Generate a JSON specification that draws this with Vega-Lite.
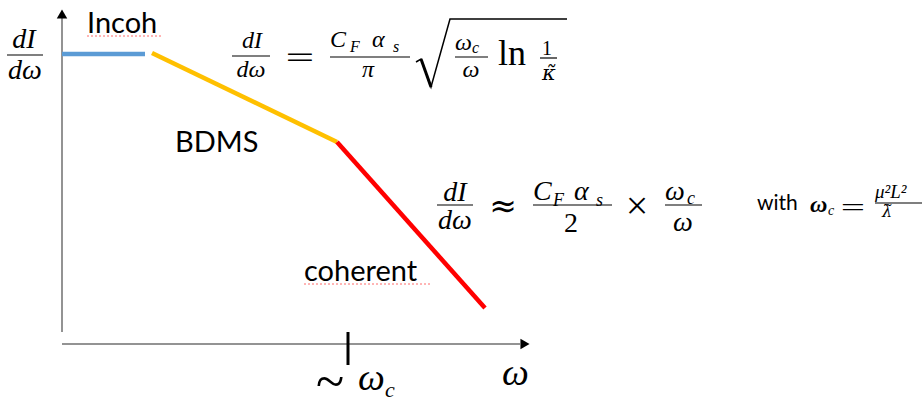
{
  "$schema": "https://vega.github.io/schema/vega-lite/v6.json",
  "width": 922,
  "height": 402,
  "autosize": "none",
  "padding": 0,
  "background": "white",
  "config": {"view": {"stroke": null}},
  "datasets": {
    "segments": [
      {"regime": "Incoh", "pt": 0, "x": 0, "y": 290},
      {"regime": "Incoh", "pt": 1, "x": 83, "y": 290},
      {"regime": "BDMS", "pt": 0, "x": 90, "y": 291},
      {"regime": "BDMS", "pt": 1, "x": 275, "y": 202},
      {"regime": "coherent", "pt": 0, "x": 275, "y": 202},
      {"regime": "coherent", "pt": 1, "x": 423, "y": 36}
    ],
    "axes": [
      {"axis": "dI/dω", "x": 0, "y": 12, "x2": 0, "y2": 326},
      {"axis": "ω", "x": 0, "y": 0, "x2": 458, "y2": 0}
    ],
    "arrows": [
      {"axis": "dI/dω", "x": 0, "y": 330},
      {"axis": "ω", "x": 463, "y": 0}
    ],
    "omega_c_tick": [
      {"x": 286, "y": 12, "y2": -21}
    ],
    "spell": [
      {"word": "Incoh", "x": 25, "x2": 101, "y": 308},
      {"word": "coherent", "x": 242, "x2": 370, "y": 60}
    ],
    "fraction_bars": [
      {"frac": "left dI/dω", "x": -55, "x2": -19, "y": 289},
      {"frac": "f1 dI/dω", "x": 170, "x2": 208, "y": 288},
      {"frac": "f1 CFαs/π", "x": 268, "x2": 348, "y": 287},
      {"frac": "f1 ωc/ω", "x": 393, "x2": 426, "y": 287},
      {"frac": "f1 1/κ", "x": 478, "x2": 495, "y": 286},
      {"frac": "f2 dI/dω", "x": 375, "x2": 411, "y": 139},
      {"frac": "f2 CFαs/2", "x": 471, "x2": 550, "y": 139},
      {"frac": "f2 ωc/ω", "x": 603, "x2": 640, "y": 139},
      {"frac": "note μ²L²/λ", "x": 813, "x2": 864, "y": 141}
    ],
    "radical": [
      {"pt": 0, "x": 354, "y": 282},
      {"pt": 1, "x": 359, "y": 285},
      {"pt": 2, "x": 369, "y": 257},
      {"pt": 3, "x": 388, "y": 325},
      {"pt": 4, "x": 505, "y": 325}
    ],
    "radical_stem": [
      {"x": 359, "y": 285, "x2": 369, "y2": 257}
    ],
    "labels": [
      {"text": "Incoh", "x": 25, "y": 311},
      {"text": "BDMS", "x": 113, "y": 192},
      {"text": "coherent", "x": 242, "y": 63}
    ],
    "with": [
      {"text": "with", "x": 695, "y": 134}
    ],
    "f1_center": [
      {"text": "dI", "x": 190, "y": 296},
      {"text": "dω", "x": 189, "y": 267},
      {"text": "π", "x": 306, "y": 267},
      {"text": "ω", "x": 409, "y": 267}
    ],
    "kappa": [
      {"text": "κ̃", "x": 487, "y": 264}
    ],
    "f1_left": [
      {"text": "C", "x": 268, "y": 297},
      {"text": "α", "x": 310, "y": 297},
      {"text": "ω", "x": 393, "y": 294}
    ],
    "f1_upright": [
      {"text": "1", "x": 485, "y": 289}
    ],
    "f1_sub": [
      {"text": "F", "x": 288, "y": 292},
      {"text": "s", "x": 331, "y": 292},
      {"text": "c", "x": 410, "y": 291}
    ],
    "f2_center": [
      {"text": "dI", "x": -38, "y": 296},
      {"text": "dω", "x": -37, "y": 265},
      {"text": "dI", "x": 393, "y": 143},
      {"text": "dω", "x": 393, "y": 115},
      {"text": "ω", "x": 621, "y": 113}
    ],
    "f2_left": [
      {"text": "C", "x": 471, "y": 144},
      {"text": "α", "x": 512, "y": 144},
      {"text": "ω", "x": 603, "y": 144}
    ],
    "f2_sub": [
      {"text": "F", "x": 491, "y": 138},
      {"text": "s", "x": 534, "y": 138},
      {"text": "c", "x": 625, "y": 140}
    ],
    "f2_upright": [
      {"text": "2", "x": 509, "y": 112}
    ],
    "equals": [
      {"text": "=", "x": 238, "y": 286}
    ],
    "approx": [
      {"text": "≈", "x": 441, "y": 137}
    ],
    "times": [
      {"text": "×", "x": 575, "y": 137}
    ],
    "tilde": [
      {"text": "~", "x": 268, "y": -55}
    ],
    "note_eq": [
      {"text": "=", "x": 791, "y": 137}
    ],
    "ln": [
      {"text": "ln", "x": 436, "y": 279}
    ],
    "axis_big": [
      {"text": "ω", "x": 440, "y": -41},
      {"text": "ω", "x": 296, "y": -46}
    ],
    "axis_sub": [
      {"text": "c", "x": 323, "y": -53}
    ],
    "note_omega": [
      {"text": "ω", "x": 748, "y": 132}
    ],
    "note_sub": [
      {"text": "c", "x": 766, "y": 129}
    ],
    "note_frac_left": [
      {"text": "μ²L²", "x": 813, "y": 146}
    ],
    "note_frac_center": [
      {"text": "λ̃", "x": 825, "y": 127}
    ]
  },
  "encoding": {
    "x": {"field": "x", "type": "quantitative", "scale": {"domain": [-62, 860], "nice": false, "zero": false}, "axis": null},
    "y": {"field": "y", "type": "quantitative", "scale": {"domain": [-58, 344], "nice": false, "zero": false}, "axis": null}
  },
  "layer": [
    {
      "data": {"name": "axes"},
      "mark": {"type": "rule", "color": "#6f6f6f", "strokeWidth": 1.5},
      "encoding": {"x2": {"field": "x2"}, "y2": {"field": "y2"}}
    },
    {
      "data": {"name": "arrows"},
      "mark": {"type": "point", "filled": true, "opacity": 1, "color": "#000000", "size": 110},
      "encoding": {"shape": {"field": "axis", "type": "nominal", "scale": {"domain": ["dI/dω", "ω"], "range": ["triangle-up", "triangle-right"]}, "legend": null}}
    },
    {
      "data": {"name": "omega_c_tick"},
      "mark": {"type": "rule", "color": "#000000", "strokeWidth": 3},
      "encoding": {"y2": {"field": "y2"}}
    },
    {
      "data": {"name": "segments"},
      "mark": {"type": "line", "strokeWidth": 4.5, "strokeCap": "butt"},
      "encoding": {
        "color": {"field": "regime", "type": "nominal", "scale": {"domain": ["Incoh", "BDMS", "coherent"], "range": ["#5B9BD5", "#FFC000", "#FF0000"]}, "legend": null},
        "order": {"field": "pt", "type": "quantitative"}
      }
    },
    {
      "data": {"name": "spell"},
      "mark": {"type": "rule", "color": "#ff6b6b", "strokeWidth": 1, "strokeDash": [2, 2]},
      "encoding": {"x2": {"field": "x2"}}
    },
    {
      "data": {"name": "fraction_bars"},
      "mark": {"type": "rule", "color": "#000000", "strokeWidth": 1.2},
      "encoding": {"x2": {"field": "x2"}}
    },
    {
      "data": {"name": "radical"},
      "mark": {"type": "line", "color": "#000000", "strokeWidth": 1.5, "strokeJoin": "miter"},
      "encoding": {"order": {"field": "pt", "type": "quantitative"}}
    },
    {
      "data": {"name": "radical_stem"},
      "mark": {"type": "rule", "color": "#000000", "strokeWidth": 3},
      "encoding": {"x2": {"field": "x2"}, "y2": {"field": "y2"}}
    },
    {
      "data": {"name": "labels"},
      "mark": {"type": "text", "font": "Lato", "fontSize": 29, "align": "left", "baseline": "alphabetic", "color": "#000000"},
      "encoding": {"text": {"field": "text"}}
    },
    {
      "data": {"name": "with"},
      "mark": {"type": "text", "font": "Lato", "fontSize": 21, "align": "left", "baseline": "alphabetic", "color": "#000000"},
      "encoding": {"text": {"field": "text"}}
    },
    {
      "data": {"name": "f1_center"},
      "mark": {"type": "text", "font": "Liberation Serif", "fontStyle": "italic", "fontSize": 24, "align": "center", "baseline": "alphabetic", "color": "#000000"},
      "encoding": {"text": {"field": "text"}}
    },
    {
      "data": {"name": "kappa"},
      "mark": {"type": "text", "font": "DejaVu Serif", "fontStyle": "italic", "fontSize": 21, "align": "center", "baseline": "alphabetic", "color": "#000000"},
      "encoding": {"text": {"field": "text"}}
    },
    {
      "data": {"name": "f1_left"},
      "mark": {"type": "text", "font": "Liberation Serif", "fontStyle": "italic", "fontSize": 24, "align": "left", "baseline": "alphabetic", "color": "#000000"},
      "encoding": {"text": {"field": "text"}}
    },
    {
      "data": {"name": "f1_upright"},
      "mark": {"type": "text", "font": "Liberation Serif", "fontSize": 20, "align": "center", "baseline": "alphabetic", "color": "#000000"},
      "encoding": {"text": {"field": "text"}}
    },
    {
      "data": {"name": "f1_sub"},
      "mark": {"type": "text", "font": "Liberation Serif", "fontStyle": "italic", "fontSize": 16, "align": "left", "baseline": "alphabetic", "color": "#000000"},
      "encoding": {"text": {"field": "text"}}
    },
    {
      "data": {"name": "f2_center"},
      "mark": {"type": "text", "font": "Liberation Serif", "fontStyle": "italic", "fontSize": 28, "align": "center", "baseline": "alphabetic", "color": "#000000"},
      "encoding": {"text": {"field": "text"}}
    },
    {
      "data": {"name": "f2_left"},
      "mark": {"type": "text", "font": "Liberation Serif", "fontStyle": "italic", "fontSize": 28, "align": "left", "baseline": "alphabetic", "color": "#000000"},
      "encoding": {"text": {"field": "text"}}
    },
    {
      "data": {"name": "f2_sub"},
      "mark": {"type": "text", "font": "Liberation Serif", "fontStyle": "italic", "fontSize": 18, "align": "left", "baseline": "alphabetic", "color": "#000000"},
      "encoding": {"text": {"field": "text"}}
    },
    {
      "data": {"name": "f2_upright"},
      "mark": {"type": "text", "font": "Liberation Serif", "fontSize": 28, "align": "center", "baseline": "alphabetic", "color": "#000000"},
      "encoding": {"text": {"field": "text"}}
    },
    {
      "data": {"name": "equals"},
      "mark": {"type": "text", "font": "DejaVu Sans", "fontWeight": 200, "fontSize": 38, "align": "center", "baseline": "middle", "color": "#000000"},
      "encoding": {"text": {"field": "text"}}
    },
    {
      "data": {"name": "approx"},
      "mark": {"type": "text", "font": "DejaVu Sans", "fontSize": 33, "align": "center", "baseline": "middle", "color": "#000000"},
      "encoding": {"text": {"field": "text"}}
    },
    {
      "data": {"name": "times"},
      "mark": {"type": "text", "font": "Liberation Serif", "fontSize": 40, "align": "center", "baseline": "middle", "color": "#000000"},
      "encoding": {"text": {"field": "text"}}
    },
    {
      "data": {"name": "tilde"},
      "mark": {"type": "text", "font": "Liberation Serif", "fontSize": 52, "align": "center", "baseline": "alphabetic", "color": "#000000"},
      "encoding": {"text": {"field": "text"}}
    },
    {
      "data": {"name": "note_eq"},
      "mark": {"type": "text", "font": "DejaVu Sans", "fontWeight": 200, "fontSize": 32, "align": "center", "baseline": "middle", "color": "#000000"},
      "encoding": {"text": {"field": "text"}}
    },
    {
      "data": {"name": "ln"},
      "mark": {"type": "text", "font": "Liberation Serif", "fontSize": 36, "align": "left", "baseline": "alphabetic", "color": "#000000"},
      "encoding": {"text": {"field": "text"}}
    },
    {
      "data": {"name": "axis_big"},
      "mark": {"type": "text", "font": "Liberation Serif", "fontStyle": "italic", "fontSize": 38, "align": "left", "baseline": "alphabetic", "color": "#000000"},
      "encoding": {"text": {"field": "text"}}
    },
    {
      "data": {"name": "axis_sub"},
      "mark": {"type": "text", "font": "Liberation Serif", "fontStyle": "italic", "fontSize": 22, "align": "left", "baseline": "alphabetic", "color": "#000000"},
      "encoding": {"text": {"field": "text"}}
    },
    {
      "data": {"name": "note_omega"},
      "mark": {"type": "text", "font": "Liberation Serif", "fontStyle": "italic", "fontWeight": "bold", "fontSize": 24, "align": "left", "baseline": "alphabetic", "color": "#000000"},
      "encoding": {"text": {"field": "text"}}
    },
    {
      "data": {"name": "note_sub"},
      "mark": {"type": "text", "font": "Liberation Serif", "fontStyle": "italic", "fontSize": 14, "align": "left", "baseline": "alphabetic", "color": "#000000"},
      "encoding": {"text": {"field": "text"}}
    },
    {
      "data": {"name": "note_frac_left"},
      "mark": {"type": "text", "font": "Liberation Serif", "fontStyle": "italic", "fontSize": 19, "align": "left", "baseline": "alphabetic", "color": "#000000"},
      "encoding": {"text": {"field": "text"}}
    },
    {
      "data": {"name": "note_frac_center"},
      "mark": {"type": "text", "font": "DejaVu Serif", "fontStyle": "italic", "fontSize": 16, "align": "center", "baseline": "alphabetic", "color": "#000000"},
      "encoding": {"text": {"field": "text"}}
    }
  ]
}
